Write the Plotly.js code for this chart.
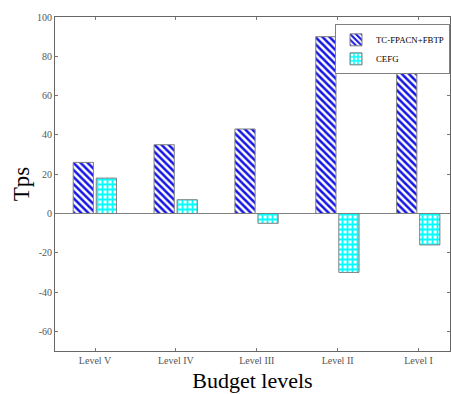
<!DOCTYPE html>
<html>
<head>
<meta charset="utf-8">
<script src="https://cdn.plot.ly/plotly-3.0.1.min.js"></script>
<style>html,body{margin:0;padding:0;background:#fff;}#chart{width:451px;height:394px;}</style>
</head>
<body>
<div id="chart"></div>
<script>
const categories = ["Level V", "Level IV", "Level III", "Level II", "Level I"];
const seriesNames = ["TC-FPACN+FBTP", "CEFG"];
const tcValues = [26, 35, 43, 90, 72];
const cefgValues = [18, 7, -5, -30, -16];
const yTickVals = [-60, -40, -20, 0, 20, 40, 60, 80, 100];
const yTickText = ["-60", "-40", "-20", "0", "20", "40", "60", "80", "100"];

const serif = "Liberation Serif";
const idx = categories.map((c, i) => i);

const traces = [
  {
    type: "bar", name: seriesNames[0], x: idx, y: tcValues,
    width: 0.25, offset: -0.27,
    marker: {
      color: "#ffffff",
      line: {color: "#7f7f7f", width: 1},
      pattern: {shape: "\\", fgcolor: "#1414e6", bgcolor: "#ffffff", size: 5, solidity: 0.5, fillmode: "replace"}
    }
  },
  {
    type: "bar", name: seriesNames[1], x: idx, y: cefgValues,
    width: 0.25, offset: 0.015,
    marker: {
      color: "#ffffff",
      line: {color: "#7f7f7f", width: 1},
      pattern: {shape: "+", fgcolor: "#00ffff", bgcolor: "#ffffff", size: 5, solidity: 0.6, fillmode: "replace"}
    }
  }
];

const layout = {
  width: 451, height: 394,
  margin: {l: 55, r: 1, t: 17, b: 43, pad: 0},
  paper_bgcolor: "#ffffff", plot_bgcolor: "#ffffff",
  font: {family: serif, size: 10, color: "#555555"},
  showlegend: true,
  legend: {
    x: 1, y: 0.978, xanchor: "right", yanchor: "top",
    bgcolor: "#ffffff", bordercolor: "#808080", borderwidth: 1,
    font: {family: serif, size: 8.8, color: "#000000"},
    itemwidth: 30, tracegroupgap: 0
  },
  xaxis: {
    range: [-0.495, 4.39],
    tickmode: "array", tickvals: idx, ticktext: categories,
    ticks: "inside", ticklen: 3, tickcolor: "#777777",
    showline: true, linecolor: "#666666", linewidth: 1, mirror: "ticks",
    showgrid: false, zeroline: false,
    tickfont: {family: serif, size: 10, color: "#555555"},
    title: {text: "Budget levels", font: {family: serif, size: 22, color: "#000000"}, standoff: 7}
  },
  yaxis: {
    range: [-70, 100],
    tickmode: "array", tickvals: yTickVals, ticktext: yTickText,
    ticks: "inside", ticklen: 3, tickcolor: "#777777",
    showline: true, linecolor: "#666666", linewidth: 1, mirror: "ticks",
    showgrid: false,
    zeroline: true, zerolinecolor: "#808080", zerolinewidth: 1,
    tickfont: {family: serif, size: 10, color: "#555555"},
    title: {text: "Tps", font: {family: serif, size: 23, color: "#000000"}, standoff: 0}
  }
};

Plotly.newPlot("chart", traces, layout, {displayModeBar: false, staticPlot: true});
</script>
</body>
</html>
